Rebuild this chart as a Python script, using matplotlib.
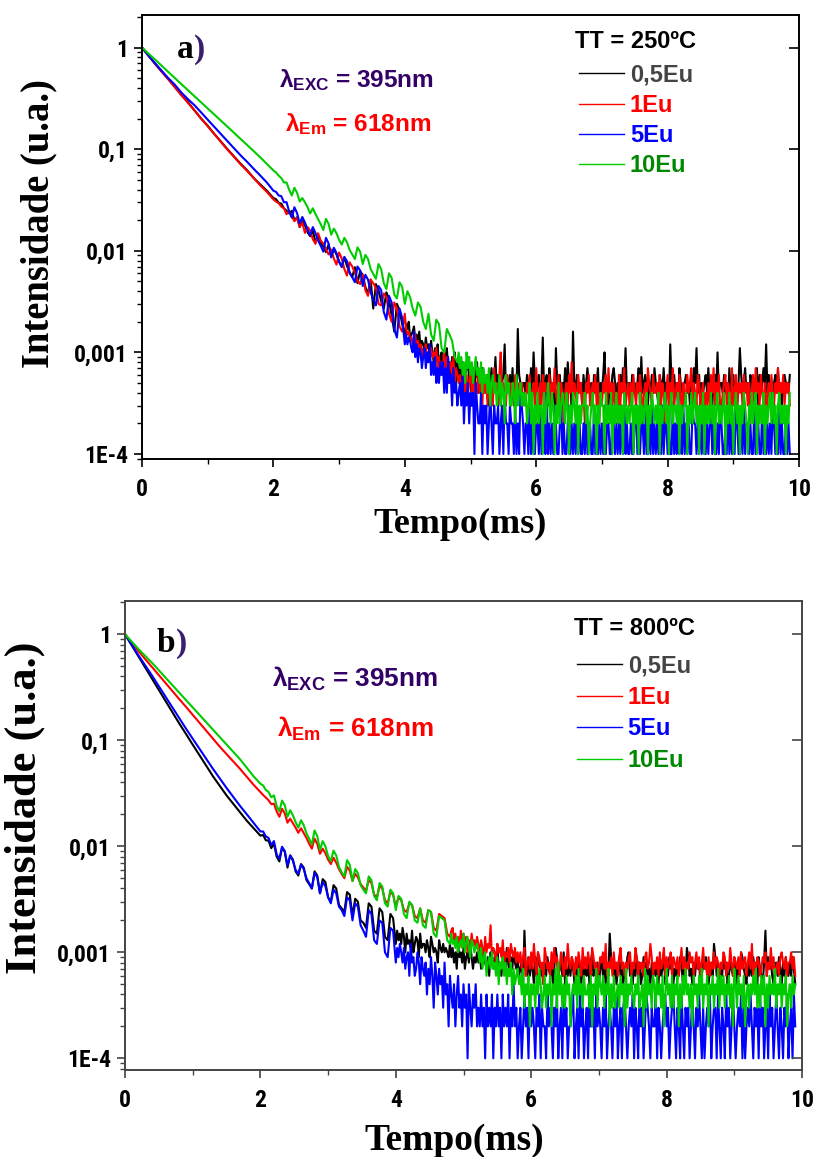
import numpy as np
import matplotlib
matplotlib.use("Agg")
import matplotlib.pyplot as plt
from matplotlib import font_manager
from matplotlib.ticker import FixedLocator, FixedFormatter, LogLocator, NullFormatter, NullLocator, MultipleLocator
from matplotlib.font_manager import FontProperties

# ---------------------------------------------------------------- data
# Sampling: section A every 0.1 ms (relative intensity), section B every
# 0.04 ms (counts, 1 count = 1e-4), section C every 0.02 ms (counts, base-36 digits)
STEP_A, STEP_B, STEP_C = 0.1, 0.04, 0.02
COUNT = 1e-4

series_labels = ["0,5Eu", "1Eu", "5Eu", "10Eu"]
line_colors = ["#000000", "#ff0000", "#0000ff", "#00cc00"]
label_colors = ["#444444", "#ff0000", "#0000ff", "#008800"]

x_ticks = [0, 2, 4, 6, 8, 10]
x_tick_labels = ["0", "2", "4", "6", "8", "10"]
y_ticks = [1e-4, 1e-3, 1e-2, 1e-1, 1]
y_tick_labels = ["1E-4", "0,001", "0,01", "0,1", "1"]

# ----- panel a : TT = 250ºC
a_title = "TT = 250ºC"
a_05_A = [1, 0.83, 0.69, 0.58, 0.49, 0.41, 0.34, 0.29, 0.24, 0.20, 0.17, 0.141, 0.119,
          0.100, 0.085, 0.072, 0.062, 0.052, 0.045, 0.039, 0.033]
a_05_B = [322, 296, 291, 262, 248, 233, 247, 198, 214, 171, 196, 178, 152, 139, 158, 122, 141,
          119, 109, 97, 115, 88, 104, 92, 78, 70, 86, 71, 61, 55, 69, 48, 63, 58, 44, 38, 52,
          27, 47, 41, 32, 27, 39, 33, 23, 16, 30, 26, 19, 15]
a_05_C = ("jhkefgidfcgbdcaebc9d" "a8b9c79a689b78697a58" "67584679563756846574"
          "546357459465356c455647354h6545"
          "5465374a54" "5635e45637" "5453b54635" "4748563g54" "6455364575"
          "4536457354" "6a45354675" "3546475b45" "5364545739" "4565354647"
          "5436547455" "3c54645375" "4556453647" "5b46354564" "7453564a45"
          "5464537456" "4535b64574" "5365445736" "4575c46354" "5647453565" "546")

a_1_A = [1, 0.83, 0.69, 0.58, 0.485, 0.405, 0.34, 0.285, 0.24, 0.20, 0.168, 0.141, 0.118,
         0.099, 0.084, 0.071, 0.061, 0.052, 0.044, 0.038, 0.032]
a_1_B = [305, 294, 272, 262, 229, 246, 218, 196, 211, 172, 190, 150, 171, 158, 130, 117, 149,
         126, 118, 104, 92, 103, 84, 73, 96, 84, 66, 57, 77, 70, 61, 51, 47, 58, 41, 36, 52,
         48, 43, 30, 29, 38, 35, 24, 20, 31, 27, 18, 16, 24]
a_1_C = ("hfgdecbfadbc9bac8a9b" "9a8b79687a6957869576" "56457364574635474536"
         "453645374536a45436453546354453"
         "4354634537" "4253645346" "3547436354" "2453648354" "3645342546"
         "3454635243" "5463745353" "4263547345" "3536435464" "2453754364"
         "4536354246" "3547345364" "2534645735" "4365345243" "5364735463"
         "3456354273" "4635453645" "3524637453" "6435245364" "3547354635" "453")

a_5_A = [1, 0.83, 0.70, 0.59, 0.50, 0.43, 0.36, 0.31, 0.27, 0.23, 0.195, 0.166, 0.141,
         0.120, 0.102, 0.087, 0.075, 0.064, 0.055, 0.047, 0.039]
a_5_B = [380, 350, 345, 300, 301, 243, 212, 268, 235, 186, 215, 190, 160, 142, 171, 150, 126,
         112, 98, 134, 118, 86, 107, 95, 78, 69, 87, 79, 61, 55, 49, 70, 64, 45, 58, 52, 39,
         33, 29, 45, 41, 25, 21, 36, 31, 17, 14, 27, 22, 12]
a_5_C = ("fcedbag9c8ba79b7a8c6" "86957586847495637453" "45362435243415322413"
         "231242132231231422132213121432"
         "1221312112" "2131221412" "1213211231" "2112312121" "3121121312"
         "2113121212" "1312211321" "2121314121" "1211231212" "2131121312"
         "1212131221" "2113121412" "1312121132" "2121213112" "1231211213"
         "2112131212" "1321121312" "2121131221" "1312121213" "2121312112" "121")

a_10_A = [1, 0.87, 0.76, 0.66, 0.575, 0.50, 0.436, 0.38, 0.331, 0.288, 0.251, 0.219, 0.191,
          0.166, 0.145, 0.126, 0.110, 0.0955, 0.083, 0.0716, 0.0617]
a_10_B = [590, 548, 520, 470, 470, 398, 350, 417, 372, 305, 330, 300, 268, 233, 262, 230, 205,
          183, 160, 206, 184, 144, 165, 149, 128, 115, 134, 121, 102, 92, 83, 108, 98, 74, 91,
          83, 66, 59, 53, 74, 66, 48, 42, 60, 54, 37, 34, 49, 44, 30, 40, 35, 27, 23, 31, 28,
          20, 17, 24, 15, 13, 21, 19, 11, 10, 17, 15, 13, 9, 8]
a_10_C = ("a79685a7968579675847" "564735645346354264533542634534"
          "3423524132" "4233142353" "2431325234" "3243132432" "4132334231"
          "2342313243" "3142324132" "4232314323" "2341323142" "3234132432"
          "3241323423" "1342332413" "2334132423" "4231324132" "3242313423"
          "2341324231" "3423132432" "1324234132" "3241323424" "2313423231" "324")

# ----- panel b : TT = 800ºC
b_title = "TT = 800ºC"
b_05_A = [1, 0.785, 0.617, 0.484, 0.380, 0.299, 0.234, 0.184, 0.1445, 0.115, 0.091, 0.0724,
          0.0575, 0.0457, 0.0372, 0.0302, 0.0251, 0.0209, 0.0174, 0.0148, 0.0126]
b_05_B = [128, 114, 113, 96, 106, 80, 72, 97, 89, 63, 82, 75, 58, 53, 68, 63, 48, 44, 40, 58,
          53, 36, 49, 46, 33, 30, 43, 40, 28, 26, 24, 37, 35, 22, 32, 30, 20, 19, 17, 29, 27,
          16, 15, 26, 24, 14, 13, 23, 21, 12]
b_05_C = ("gdfcheafcdbgaced9fbc" "cadb9ecaba8dbacaba9c" "9b8a7c9a8b79a8c9798a"
          "8a79b8796a8798c7869a7b8697a879"
          "6785g76968" "7596a86758" "6976857b96" "786a576869" "7586975867"
          "6958a67685" "7968576f97" "6857968576" "9a67586978" "5697867586"
          "7685967a58" "6978576869" "8576b96758" "6978568796" "5786c96857"
          "6978568769" "7586a97658" "6869785976" "58g6978657" "8697586976" "86975")

b_1_A = [1, 0.832, 0.692, 0.582, 0.490, 0.412, 0.347, 0.292, 0.245, 0.207, 0.174, 0.146,
         0.123, 0.1035, 0.087, 0.0741, 0.0631, 0.0537, 0.0452, 0.038, 0.0324]
b_1_B = [305, 288, 272, 250, 252, 214, 190, 226, 204, 167, 182, 165, 150, 134, 148, 133, 120,
         106, 95, 118, 105, 85, 95, 86, 75, 68, 78, 70, 61, 55, 50, 64, 59, 47, 55, 51, 44, 41,
         38, 48, 45, 35, 33, 42, 40, 31, 29, 37, 35, 27, 33, 31, 25, 24, 29, 28, 22, 21, 26,
         20, 19, 25, 24, 17, 16, 23, 22, 21, 15, 14]
b_1_C = ("ghdfcebgdfceadbfcdbe" "cadb9eacbi9ba8cab9d8a9b8ca9b8a"
         "8a79b6897a" "7c86a9785b" "9786a7b896" "7a8697c879" "8697a86b79"
         "7a86b97867" "98a7c68796" "a7869b7868" "79a687b968" "7869a78c96"
         "8796a78b69" "78a6987968" "b79687a896" "8a7968b786" "9687a79868"
         "7a9687b869" "8796a78968" "a7c6879867" "98a687b796" "7869a87968" "8a796")

b_5_A = [1, 0.794, 0.631, 0.507, 0.407, 0.324, 0.257, 0.204, 0.162, 0.129, 0.1035, 0.083,
         0.0668, 0.0537, 0.0437, 0.0355, 0.0292, 0.024, 0.020, 0.0166, 0.0138]
b_5_B = [138, 124, 120, 103, 112, 84, 76, 99, 90, 66, 82, 73, 60, 55, 67, 61, 50, 45, 40, 56,
         51, 36, 46, 42, 33, 29, 39, 36, 27, 25, 22, 33, 31, 20, 29, 27, 18, 16, 14, 25, 23,
         13, 12, 20, 19, 10, 9, 17, 16, 8]
b_5_C = ("b9ca8b79a6c8967a8597" "68475963864756384526" "43524634253415324352"
         "324231423241324231423241325231"
         "2312423142" "3213241322" "1423213241" "2314231223" "4123142312"
         "3142231423" "2132412321" "3241231342" "1232413214" "2312432132"
         "2413212342" "3123421321" "4213231242" "1324213123" "2412331421"
         "3214231242" "1232413123" "2421323142" "3123142312" "4213213241" "23142")

b_10_A = [1, 0.851, 0.724, 0.624, 0.537, 0.457, 0.389, 0.331, 0.282, 0.240, 0.204, 0.174,
          0.148, 0.126, 0.107, 0.0912, 0.0776, 0.0661, 0.055, 0.0457, 0.0389]
b_10_B = [375, 340, 326, 290, 302, 240, 214, 270, 244, 190, 219, 196, 169, 150, 176, 158, 133,
          118, 104, 141, 125, 92, 112, 100, 81, 72, 91, 82, 64, 57, 52, 74, 67, 47, 61, 56, 43,
          39, 36, 52, 48, 34, 31, 45, 42, 29, 27, 39, 36, 25, 34, 32, 23, 21, 30, 28, 20, 19,
          26, 18, 17, 25, 24, 15, 14, 22, 21, 20, 13, 12]
b_10_C = ("fcdbeacdbfaceb9dcabc" "a8b79a6897a7869587968576847567"
          "5647354625" "4536475346" "3546254738" "4635364524" "5463745364"
          "4536254736" "5463547253" "6345364527" "3546435463" "4527364536"
          "5364536247" "4536354625" "3647453526" "4536473546" "2546354736"
          "4635463527" "5364536245" "3546473536" "4625364547" "3546354624" "53645")


def build(A, B, C):
    vA = np.asarray(A, float)
    tA = np.arange(len(vA)) * STEP_A
    vB = np.asarray(B, float) * COUNT
    tB = tA[-1] + STEP_B * np.arange(1, len(vB) + 1)
    vC = np.array([int(ch, 36) for ch in C], float) * COUNT
    tC = tB[-1] + STEP_C * np.arange(1, len(vC) + 1)
    return np.concatenate([tA, tB, tC]), np.concatenate([vA, vB, vC])


panel_a = [(a_05_A, a_05_B, a_05_C), (a_1_A, a_1_B, a_1_C),
           (a_5_A, a_5_B, a_5_C), (a_10_A, a_10_B, a_10_C)]
panel_b = [(b_05_A, b_05_B, b_05_C), (b_1_A, b_1_B, b_1_C),
           (b_5_A, b_5_B, b_5_C), (b_10_A, b_10_B, b_10_C)]

# ---------------------------------------------------------------- style
plt.rcParams["mathtext.fontset"] = "custom"
plt.rcParams["mathtext.bf"] = "Liberation Sans:bold"
plt.rcParams["mathtext.rm"] = "Liberation Sans:bold"
plt.rcParams["mathtext.it"] = "Liberation Sans:bold"


def narrow_bold_font(size):
    """Bold condensed sans face (Arial-Narrow-like) if one is installed."""
    preferred = ["Roboto Condensed", "Archivo Narrow", "Encode Sans Condensed",
                 "Fira Sans Condensed", "Barlow Semi Condensed", "Asap Condensed"]
    for name in preferred:
        for f in font_manager.fontManager.ttflist:
            w = f.weight
            if isinstance(w, str):
                w = font_manager.weight_dict.get(w, 400)
            if f.name == name and w == 700 and f.style == "normal":
                return FontProperties(fname=f.fname, size=size)
    return FontProperties(family="Liberation Sans", weight="bold", size=size - 2)


TICK_FONT = narrow_bold_font(17)
SANS = FontProperties(family="Liberation Sans", weight="bold", size=17)
SERIF_X_A = FontProperties(family="Liberation Serif", weight="bold", size=26)
SERIF_X_B = FontProperties(family="Liberation Serif", weight="bold", size=27)
SERIF_Y_A = FontProperties(family="Liberation Serif", weight="bold", size=27.8)
SERIF_Y_B = FontProperties(family="Liberation Serif", weight="bold", size=32)
PANEL_FONT = FontProperties(family="Liberation Serif", weight="bold", size=24)
PURPLE = "#330066"

fig = plt.figure(figsize=(8.15, 11.57), dpi=100)
ax_a = fig.add_axes([142 / 815, 1 - 459 / 1157, 657 / 815, 444 / 1157])
ax_b = fig.add_axes([125 / 815, 1 - 1070 / 1157, 677 / 815, 469 / 1157])


def style_axes(ax, ylim, spine_color):
    ax.set_yscale("log")
    ax.set_xlim(0, 10)
    ax.set_ylim(*ylim)
    ax.yaxis.set_major_locator(FixedLocator(y_ticks))
    ax.yaxis.set_major_formatter(FixedFormatter(y_tick_labels))
    ax.yaxis.set_minor_locator(LogLocator(base=10, subs=np.arange(2, 10)))
    ax.yaxis.set_minor_formatter(NullFormatter())
    ax.xaxis.set_major_locator(FixedLocator(x_ticks))
    ax.xaxis.set_major_formatter(FixedFormatter(x_tick_labels))
    ax.xaxis.set_minor_locator(MultipleLocator(1))
    ax.tick_params(which="major", direction="out", length=6, width=1.2,
                   top=False, right=False, pad=4, color=spine_color)
    ax.tick_params(which="minor", direction="out", length=3.5, width=1.0,
                   top=False, right=False, color=spine_color)
    ax.tick_params(axis="x", which="major", pad=8)
    for lab in ax.get_xticklabels() + ax.get_yticklabels():
        lab.set_fontproperties(TICK_FONT)
    for sp in ax.spines.values():
        sp.set_color(spine_color)
        sp.set_linewidth(1.4)
    axr = ax.twinx()
    axr.set_yscale("log")
    axr.set_ylim(*ylim)
    axr.yaxis.set_major_locator(FixedLocator(y_ticks))
    axr.yaxis.set_minor_locator(NullLocator())
    axr.yaxis.set_major_formatter(NullFormatter())
    axr.tick_params(which="major", direction="in", length=7, width=1.2, color=spine_color)
    for sp in axr.spines.values():
        sp.set_visible(False)
    return axr


def draw_panel(ax, data, title, ylim, spine_color, letter, letter_pos,
               exc_pos, em_pos, lam_size, title_pos, leg_anchor, leg_spacing,
               ylabel_font, xlabel_font, ylabel_xy, xlabel_xy):
    handles = []
    for (A, B, C), col in zip(data, line_colors):
        t, v = build(A, B, C)
        (ln,) = ax.plot(t, v, color=col, lw=1.5)
        handles.append(ln)
    style_axes(ax, ylim, spine_color)
    ax.set_ylabel("Intensidade (u.a.)", fontproperties=ylabel_font)
    ax.set_xlabel("Tempo(ms)", fontproperties=xlabel_font)
    ax.yaxis.set_label_coords(*ylabel_xy)
    ax.xaxis.set_label_coords(*xlabel_xy)

    ax.text(title_pos[0], title_pos[1], title, transform=ax.transAxes,
            fontproperties=SANS, color="black", ha="center", va="center")
    leg = ax.legend(handles, series_labels, loc="upper left",
                    bbox_to_anchor=leg_anchor, frameon=False, prop=SANS,
                    handlelength=1.9, handletextpad=0.25,
                    labelspacing=leg_spacing, borderpad=0, borderaxespad=0)
    for ln in leg.get_lines():
        ln.set_linewidth(1.0)
    for txt, c in zip(leg.get_texts(), label_colors):
        txt.set_color(c)

    t1 = ax.text(letter_pos[0], letter_pos[1], letter, transform=ax.transAxes,
                 fontproperties=PANEL_FONT, color="black", va="baseline", ha="left")
    ax.annotate(")", xy=(1, 0), xycoords=t1, va="bottom", ha="left",
                fontproperties=PANEL_FONT, color="#3b1e6e")
    lam_font = FontProperties(family="Liberation Sans", weight="bold", size=lam_size)
    ax.text(exc_pos[0], exc_pos[1], "λ$_{\\mathbf{EXC}}$ = 395nm", transform=ax.transAxes,
            fontproperties=lam_font, color=PURPLE, va="baseline", ha="left")
    ax.text(em_pos[0], em_pos[1], "λ$_{\\mathbf{Em}}$ = 618nm", transform=ax.transAxes,
            fontproperties=lam_font, color="#ff0000", va="baseline", ha="left")


draw_panel(ax_a, panel_a, a_title, (8.93e-5, 2.09), "#000000", "a",
           (0.053, 0.903), (0.208, 0.838), (0.218, 0.738), 17.6,
           (0.7504, 0.9392), (0.6652, 0.8907), 0.31,
           SERIF_Y_A, SERIF_X_A, (-0.128, 0.53), (0.484, -0.11))
draw_panel(ax_b, panel_b, b_title, (7.76e-5, 2.06), "#444444", "b",
           (0.047, 0.891), (0.217, 0.817), (0.224, 0.710), 18.8,
           (0.7518, 0.9424), (0.6676, 0.886), 0.36,
           SERIF_Y_B, SERIF_X_B, (-0.118, 0.559), (0.487, -0.112))

fig.savefig("out.png", dpi=100)
